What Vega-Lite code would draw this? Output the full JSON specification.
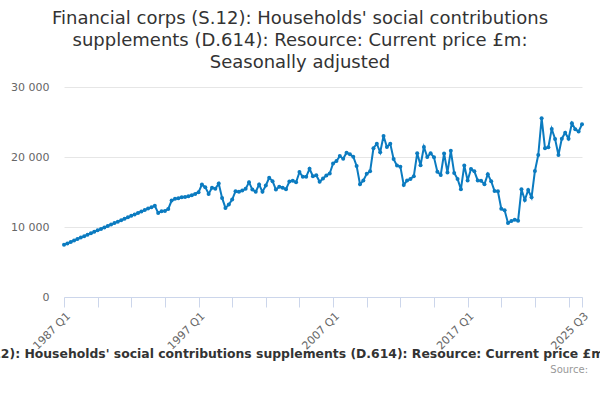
{
  "$schema": "https://vega.github.io/schema/vega-lite/v6.json",
  "width": 518,
  "height": 210,
  "autosize": {"type": "none"},
  "padding": {"left": 64, "top": 87, "right": 18, "bottom": 103},
  "background": "white",
  "title": {
    "text": [
      "Financial corps (S.12): Households' social contributions",
      "supplements (D.614): Resource: Current price £m:",
      "Seasonally adjusted"
    ],
    "font": "DejaVu Sans",
    "fontSize": 18,
    "fontWeight": "normal",
    "color": "#333333",
    "anchor": "middle",
    "lineHeight": 22,
    "offset": 9,
    "dx": -23
  },
  "config": {
    "view": {"stroke": null},
    "font": "DejaVu Sans"
  },
  "layer": [
    {
      "data": {
        "values": [
          {"period": "1987 Q1", "value": 7450},
          {"period": "1987 Q2", "value": 7660},
          {"period": "1987 Q3", "value": 7860},
          {"period": "1987 Q4", "value": 8070},
          {"period": "1988 Q1", "value": 8280},
          {"period": "1988 Q2", "value": 8490},
          {"period": "1988 Q3", "value": 8690},
          {"period": "1988 Q4", "value": 8900},
          {"period": "1989 Q1", "value": 9110},
          {"period": "1989 Q2", "value": 9310},
          {"period": "1989 Q3", "value": 9520},
          {"period": "1989 Q4", "value": 9730},
          {"period": "1990 Q1", "value": 9930},
          {"period": "1990 Q2", "value": 10140},
          {"period": "1990 Q3", "value": 10350},
          {"period": "1990 Q4", "value": 10560},
          {"period": "1991 Q1", "value": 10760},
          {"period": "1991 Q2", "value": 10970},
          {"period": "1991 Q3", "value": 11180},
          {"period": "1991 Q4", "value": 11380},
          {"period": "1992 Q1", "value": 11590},
          {"period": "1992 Q2", "value": 11800},
          {"period": "1992 Q3", "value": 12000},
          {"period": "1992 Q4", "value": 12210},
          {"period": "1993 Q1", "value": 12420},
          {"period": "1993 Q2", "value": 12630},
          {"period": "1993 Q3", "value": 12830},
          {"period": "1993 Q4", "value": 13040},
          {"period": "1994 Q1", "value": 12010},
          {"period": "1994 Q2", "value": 12240},
          {"period": "1994 Q3", "value": 12300},
          {"period": "1994 Q4", "value": 12580},
          {"period": "1995 Q1", "value": 13780},
          {"period": "1995 Q2", "value": 14020},
          {"period": "1995 Q3", "value": 14100},
          {"period": "1995 Q4", "value": 14250},
          {"period": "1996 Q1", "value": 14300},
          {"period": "1996 Q2", "value": 14400},
          {"period": "1996 Q3", "value": 14550},
          {"period": "1996 Q4", "value": 14730},
          {"period": "1997 Q1", "value": 14970},
          {"period": "1997 Q2", "value": 16070},
          {"period": "1997 Q3", "value": 15690},
          {"period": "1997 Q4", "value": 14730},
          {"period": "1998 Q1", "value": 15600},
          {"period": "1998 Q2", "value": 15450},
          {"period": "1998 Q3", "value": 16220},
          {"period": "1998 Q4", "value": 14160},
          {"period": "1999 Q1", "value": 12730},
          {"period": "1999 Q2", "value": 13200},
          {"period": "1999 Q3", "value": 13920},
          {"period": "1999 Q4", "value": 15110},
          {"period": "2000 Q1", "value": 15020},
          {"period": "2000 Q2", "value": 15210},
          {"period": "2000 Q3", "value": 15450},
          {"period": "2000 Q4", "value": 16400},
          {"period": "2001 Q1", "value": 15350},
          {"period": "2001 Q2", "value": 15020},
          {"period": "2001 Q3", "value": 16070},
          {"period": "2001 Q4", "value": 15020},
          {"period": "2002 Q1", "value": 15930},
          {"period": "2002 Q2", "value": 17030},
          {"period": "2002 Q3", "value": 16550},
          {"period": "2002 Q4", "value": 15350},
          {"period": "2003 Q1", "value": 15740},
          {"period": "2003 Q2", "value": 15600},
          {"period": "2003 Q3", "value": 15400},
          {"period": "2003 Q4", "value": 16500},
          {"period": "2004 Q1", "value": 16600},
          {"period": "2004 Q2", "value": 16400},
          {"period": "2004 Q3", "value": 17840},
          {"period": "2004 Q4", "value": 17170},
          {"period": "2005 Q1", "value": 17170},
          {"period": "2005 Q2", "value": 18320},
          {"period": "2005 Q3", "value": 17260},
          {"period": "2005 Q4", "value": 17400},
          {"period": "2006 Q1", "value": 16460},
          {"period": "2006 Q2", "value": 16930},
          {"period": "2006 Q3", "value": 17360},
          {"period": "2006 Q4", "value": 17650},
          {"period": "2007 Q1", "value": 19085},
          {"period": "2007 Q2", "value": 19420},
          {"period": "2007 Q3", "value": 20130},
          {"period": "2007 Q4", "value": 19750},
          {"period": "2008 Q1", "value": 20620},
          {"period": "2008 Q2", "value": 20380},
          {"period": "2008 Q3", "value": 20040},
          {"period": "2008 Q4", "value": 18720},
          {"period": "2009 Q1", "value": 16100},
          {"period": "2009 Q2", "value": 16650},
          {"period": "2009 Q3", "value": 17600},
          {"period": "2009 Q4", "value": 17950},
          {"period": "2010 Q1", "value": 21250},
          {"period": "2010 Q2", "value": 21900},
          {"period": "2010 Q3", "value": 20670},
          {"period": "2010 Q4", "value": 23010},
          {"period": "2011 Q1", "value": 21430},
          {"period": "2011 Q2", "value": 21900},
          {"period": "2011 Q3", "value": 19700},
          {"period": "2011 Q4", "value": 18770},
          {"period": "2012 Q1", "value": 18620},
          {"period": "2012 Q2", "value": 16000},
          {"period": "2012 Q3", "value": 16650},
          {"period": "2012 Q4", "value": 16860},
          {"period": "2013 Q1", "value": 17260},
          {"period": "2013 Q2", "value": 20530},
          {"period": "2013 Q3", "value": 18820},
          {"period": "2013 Q4", "value": 21430},
          {"period": "2014 Q1", "value": 20000},
          {"period": "2014 Q2", "value": 20530},
          {"period": "2014 Q3", "value": 19950},
          {"period": "2014 Q4", "value": 17910},
          {"period": "2015 Q1", "value": 17430},
          {"period": "2015 Q2", "value": 20500},
          {"period": "2015 Q3", "value": 17800},
          {"period": "2015 Q4", "value": 20880},
          {"period": "2016 Q1", "value": 17720},
          {"period": "2016 Q2", "value": 16860},
          {"period": "2016 Q3", "value": 15390},
          {"period": "2016 Q4", "value": 18790},
          {"period": "2017 Q1", "value": 16650},
          {"period": "2017 Q2", "value": 18300},
          {"period": "2017 Q3", "value": 17950},
          {"period": "2017 Q4", "value": 16650},
          {"period": "2018 Q1", "value": 16600},
          {"period": "2018 Q2", "value": 16120},
          {"period": "2018 Q3", "value": 17550},
          {"period": "2018 Q4", "value": 16530},
          {"period": "2019 Q1", "value": 15150},
          {"period": "2019 Q2", "value": 15100},
          {"period": "2019 Q3", "value": 12600},
          {"period": "2019 Q4", "value": 12380},
          {"period": "2020 Q1", "value": 10570},
          {"period": "2020 Q2", "value": 10840},
          {"period": "2020 Q3", "value": 11030},
          {"period": "2020 Q4", "value": 10910},
          {"period": "2021 Q1", "value": 15390},
          {"period": "2021 Q2", "value": 13860},
          {"period": "2021 Q3", "value": 15290},
          {"period": "2021 Q4", "value": 14240},
          {"period": "2022 Q1", "value": 18000},
          {"period": "2022 Q2", "value": 20290},
          {"period": "2022 Q3", "value": 25540},
          {"period": "2022 Q4", "value": 21250},
          {"period": "2023 Q1", "value": 21390},
          {"period": "2023 Q2", "value": 24010},
          {"period": "2023 Q3", "value": 22580},
          {"period": "2023 Q4", "value": 20290},
          {"period": "2024 Q1", "value": 22620},
          {"period": "2024 Q2", "value": 23480},
          {"period": "2024 Q3", "value": 22620},
          {"period": "2024 Q4", "value": 24820},
          {"period": "2025 Q1", "value": 23960},
          {"period": "2025 Q2", "value": 23630},
          {"period": "2025 Q3", "value": 24680}
        ]
      },
      "mark": {
        "type": "line",
        "color": "#0b7bc0",
        "strokeWidth": 2,
        "point": {"filled": true, "size": 16, "color": "#0b7bc0"}
      },
      "encoding": {
        "x": {
          "field": "period",
          "type": "ordinal",
          "sort": null,
          "scale": {"type": "point", "padding": 0},
          "axis": {
            "values": ["1987 Q1", "1989 Q3", "1992 Q1", "1994 Q3", "1997 Q1", "1999 Q3", "2002 Q1", "2004 Q3", "2007 Q1", "2009 Q3", "2012 Q1", "2014 Q3", "2017 Q1", "2019 Q3", "2022 Q1", "2024 Q3", "2025 Q3"],
            "labelExpr": "indexof(['1987 Q1', '1997 Q1', '2007 Q1', '2017 Q1', '2025 Q3'], datum.value) >= 0 ? datum.value : ''",
            "labelAngle": -45,
            "labelFontSize": 11,
            "labelColor": "#666666",
            "labelOverlap": false,
            "labelPadding": 3,
            "domainColor": "#ccd6eb",
            "tickColor": "#ccd6eb",
            "tickSize": 10,
            "grid": false,
            "title": "Financial corps (S.12): Households' social contributions supplements (D.614): Resource: Current price £m: Seasonally adjusted",
            "titleFontSize": 12.4,
            "titleFontWeight": "bold",
            "titleColor": "#333333",
            "titleLimit": 2000,
            "titlePadding": -4,
            "titleX": 244
          }
        },
        "y": {
          "field": "value",
          "type": "quantitative",
          "scale": {"domain": [0, 30000]},
          "axis": {
            "title": null,
            "values": [0, 10000, 20000, 30000],
            "labelExpr": "replace(format(datum.value, ','), ',', ' ')",
            "domain": false,
            "ticks": false,
            "gridColor": "#e6e6e6",
            "labelColor": "#666666",
            "labelFontSize": 11,
            "labelPadding": 15
          }
        }
      }
    },
    {
      "data": {"values": [{"label": "Source:"}]},
      "mark": {"type": "text", "align": "right", "baseline": "middle", "fontSize": 10, "color": "#999999", "dx": 6},
      "encoding": {
        "x": {"datum": "2025 Q3", "type": "ordinal"},
        "y": {"datum": -10400, "type": "quantitative"},
        "text": {"field": "label"}
      }
    }
  ]
}
